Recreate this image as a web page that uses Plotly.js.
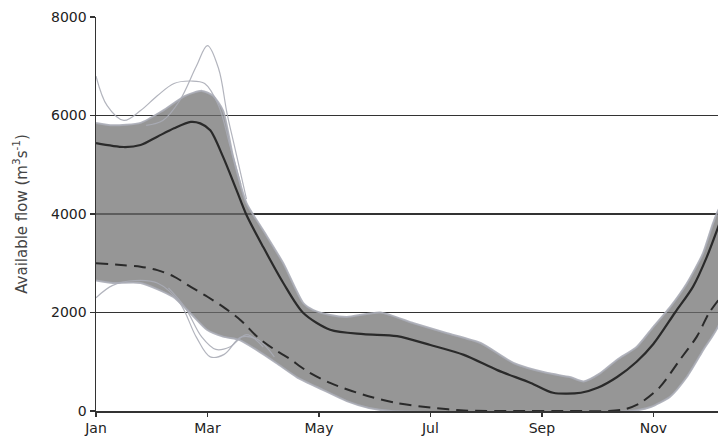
<!DOCTYPE html>
<html>
<head>
<meta charset="utf-8">
<script src="https://cdn.plot.ly/plotly-3.0.1.min.js"></script>
<style>html,body{margin:0;padding:0;background:#fff;}#chart{width:718px;height:443px;}</style>
</head>
<body>
<div id="chart"></div>
<script>
// Month index: 0 = 1 Jan, 2 = 1 Mar, ...
var tickVals = [0, 2, 4, 6, 8, 10];
var tickLabels = ['Jan', 'Mar', 'May', 'Jul', 'Sep', 'Nov'];
var yTicks = [0, 2000, 4000, 6000, 8000];

// Solid line
var solidX = [0, 0.5, 0.8, 1.1, 1.4, 1.7, 1.87, 2.05, 2.28, 2.52, 2.7, 3.0, 3.36, 3.72, 4.2, 4.8, 5.4, 6.0, 6.6, 7.2, 7.8, 8.2, 8.7, 9.0, 9.35, 9.7, 10.0, 10.39, 10.71, 10.96, 11.2];
var solidY = [5440, 5360, 5400, 5570, 5740, 5870, 5840, 5700, 5160, 4490, 3980, 3330, 2600, 1990, 1650, 1560, 1520, 1340, 1140, 830, 570, 370, 370, 470, 690, 1000, 1360, 2000, 2520, 3130, 3850];

// Dashed line
var dashX = [0, 0.5, 0.8, 1.1, 1.4, 1.7, 2.0, 2.3, 2.6, 2.9, 3.2, 3.45, 3.8, 4.2, 4.8, 5.4, 6.0, 6.6, 7.5, 8.5, 9.2, 9.5, 9.76, 10.12, 10.47, 10.78, 11.0, 11.2];
var dashY = [3000, 2960, 2930, 2860, 2730, 2520, 2320, 2100, 1840, 1500, 1250, 1080, 800, 570, 330, 160, 70, 10, 0, 0, 0, 40, 160, 490, 1030, 1510, 1990, 2300];

// Dense ensemble band: upper and lower edges
var bandUpX = [0, 0.3, 0.8, 1.2, 1.6, 1.9, 2.1, 2.28, 2.46, 2.7, 3.0, 3.36, 3.72, 3.9, 4.2, 4.5, 5.1, 5.7, 6.3, 6.9, 7.5, 8.1, 8.5, 8.75, 9.05, 9.35, 9.7, 10.0, 10.3, 10.6, 10.89, 11.07, 11.2];
var bandUpY = [5850, 5800, 5850, 6100, 6400, 6500, 6400, 6100, 5160, 4220, 3670, 3000, 2190, 2050, 1950, 1910, 2000, 1780, 1580, 1380, 970, 770, 690, 600, 770, 1040, 1300, 1710, 2110, 2590, 3200, 3810, 4150];
var bandLoX = [0, 0.3, 0.8, 1.38, 1.69, 1.99, 2.28, 2.58, 2.88, 3.24, 3.6, 4.07, 4.5, 4.9, 5.3, 9.6, 9.95, 10.3, 10.6, 10.89, 11.2];
var bandLoY = [2650, 2600, 2600, 2320, 1990, 1650, 1510, 1440, 1240, 970, 690, 430, 200, 60, 0, 0, 80, 290, 690, 1230, 1820];

// Outlying ensemble members (light lines)
var member1X = [0.9, 1.2, 1.5, 1.8, 2.0, 2.2, 2.35, 2.5, 2.7];
var member1Y = [5800, 5900, 6300, 7000, 7420, 6950, 6050, 5300, 4300];
var member2X = [0, 0.2, 0.5, 0.8, 1.1, 1.4, 1.7, 1.95, 2.2, 2.4, 2.6];
var member2Y = [6800, 6200, 5900, 6100, 6400, 6650, 6700, 6650, 6200, 5400, 4600];
var member3X = [0, 0.3, 0.7, 1.1, 1.5, 1.8, 2.05, 2.3, 2.6, 2.9, 3.2];
var member3Y = [2300, 2550, 2650, 2600, 2200, 1500, 1100, 1150, 1500, 1450, 1100];
var member4X = [1.3, 1.6, 1.9, 2.15, 2.4, 2.7, 3.0];
var member4Y = [2500, 2100, 1500, 1250, 1300, 1550, 1300];

var polyX = bandUpX.concat(bandLoX.slice().reverse());
var polyY = bandUpY.concat(bandLoY.slice().reverse());

var lightCol = 'rgba(170,172,182,0.9)';
var traces = [
  {x: polyX, y: polyY, mode: 'lines', fill: 'toself', fillcolor: 'rgba(110,110,110,0.72)',
   line: {color: lightCol, width: 2, shape: 'spline', smoothing: 0.6}, hoverinfo: 'skip', showlegend: false},
  {x: member1X, y: member1Y, mode: 'lines', line: {color: lightCol, width: 1.2, shape: 'spline'}, showlegend: false},
  {x: member2X, y: member2Y, mode: 'lines', line: {color: lightCol, width: 1.2, shape: 'spline'}, showlegend: false},
  {x: member3X, y: member3Y, mode: 'lines', line: {color: lightCol, width: 1.2, shape: 'spline'}, showlegend: false},
  {x: member4X, y: member4Y, mode: 'lines', line: {color: lightCol, width: 1.2, shape: 'spline'}, showlegend: false},
  {x: solidX, y: solidY, mode: 'lines', line: {color: '#2a2a2a', width: 2.2, shape: 'spline', smoothing: 0.8}, showlegend: false},
  {x: dashX, y: dashY, mode: 'lines', line: {color: '#2a2a2a', width: 2, dash: '12px,7px', shape: 'spline', smoothing: 0.8}, showlegend: false}
];

var layout = {
  width: 718, height: 443,
  margin: {l: 96, r: 0, t: 17, b: 32},
  paper_bgcolor: '#ffffff', plot_bgcolor: '#ffffff',
  font: {family: 'DejaVu Sans, Verdana, sans-serif', size: 14, color: '#222'},
  showlegend: false,
  xaxis: {
    range: [0, 11.16], tickvals: tickVals, ticktext: tickLabels,
    showgrid: false, zeroline: false, showline: true, linecolor: '#333', linewidth: 1.5,
    ticks: 'outside', ticklen: 4, tickcolor: '#333', tickwidth: 1.5,
    tickfont: {size: 14, color: '#222'}
  },
  yaxis: {
    range: [0, 8000], tickvals: yTicks,
    showgrid: true, gridcolor: '#333', gridwidth: 1.8,
    zeroline: false, showline: true, linecolor: '#333', linewidth: 1.5,
    ticks: 'outside', ticklen: 5, tickcolor: '#333', tickwidth: 1.5,
    tickfont: {size: 14, color: '#222'},
    title: {text: 'Available flow (m<sup>3</sup>s<sup>-1</sup>)', font: {size: 15, color: '#444'}, standoff: 20}
  }
};

Plotly.newPlot('chart', traces, layout, {displayModeBar: false, staticPlot: true});
</script>
</body>
</html>
